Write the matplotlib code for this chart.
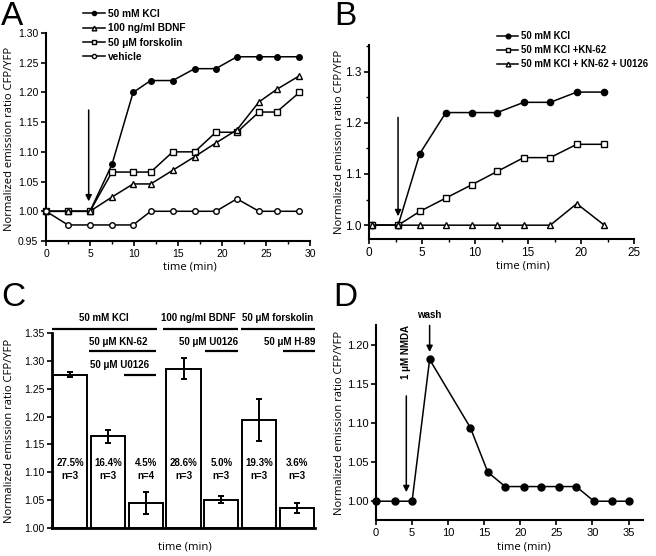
import matplotlib
matplotlib.use("Agg")
import matplotlib.pyplot as plt
import numpy as np
from matplotlib.ticker import MultipleLocator

plt.rcParams['font.family'] = ['Liberation Sans', 'DejaVu Sans']

# ---------------- data ----------------
# Panel A
a_time = [0, 2.5, 5, 7.5, 9.9, 11.9, 14.4, 16.9, 19.3, 21.7, 24.2, 26.2, 28.8]
a_kcl = [1.0, 1.0, 1.0, 1.079, 1.20, 1.22, 1.22, 1.24, 1.24, 1.26, 1.26, 1.26, 1.26]
a_bdnf = [1.0, 1.0, 1.0, 1.024, 1.046, 1.046, 1.069, 1.092, 1.115, 1.137, 1.184, 1.205, 1.228]
a_forsk = [1.0, 1.0, 1.0, 1.066, 1.066, 1.066, 1.10, 1.10, 1.133, 1.133, 1.167, 1.167, 1.20]
a_vehicle = [1.0, 0.977, 0.977, 0.977, 0.977, 1.0, 1.0, 1.0, 1.0, 1.021, 1.0, 1.0, 1.0]
a_labels = ['50 mM KCl', '100 ng/ml BDNF', '50 μM forskolin', 'vehicle']

# Panel B
b_time = [0.3, 2.75, 4.8, 7.25, 9.7, 12.1, 14.6, 17.1, 19.6, 22.2]
b_kcl = [1.0, 1.0, 1.140, 1.220, 1.220, 1.220, 1.240, 1.240, 1.260, 1.260]
b_kn62 = [1.0, 1.0, 1.027, 1.053, 1.079, 1.105, 1.132, 1.132, 1.158, 1.158]
b_u0126 = [1.0, 1.0, 1.0, 1.0, 1.0, 1.0, 1.0, 1.0, 1.042, 1.0]
b_labels = ['50 mM KCl', '50 mM KCl +KN-62', '50 mM KCl + KN-62 + U0126']

# Panel C
c_values = [1.2755, 1.1646, 1.0453, 1.2856, 1.0507, 1.1938, 1.0360]
c_errors = [0.005, 0.012, 0.020, 0.019, 0.0066, 0.038, 0.0095]
c_percent = ['27.5%', '16.4%', '4.5%', '28.6%', '5.0%', '19.3%', '3.6%']
c_n = ['n=3', 'n=3', 'n=4', 'n=3', 'n=3', 'n=3', 'n=3']

# Panel D
d_time = [0, 2.6, 5.0, 7.43, 13.07, 15.5, 17.9, 20.45, 22.85, 25.3, 27.75, 30.2, 32.7, 35.1]
d_ratio = [1.0, 1.0, 1.0, 1.181, 1.094, 1.037, 1.0187, 1.0187, 1.0187, 1.0187, 1.0187, 1.0, 1.0, 1.0]

# ---------------- figure ----------------
W, H = 656, 556
fig = plt.figure(figsize=(W / 100, H / 100), dpi=100)


def rect(l, t, r, b):
    return [l / W, 1 - b / H, (r - l) / W, (b - t) / H]


LABEL_FONT = dict(family=['Open Sans', 'DejaVu Sans'], fontsize=8.1)
YLABEL = 'Normalized emission ratio CFP/YFP'


def style(ax, tick_size):
    for s in ['top', 'right']:
        ax.spines[s].set_visible(False)
    for s in ['left', 'bottom']:
        ax.spines[s].set_linewidth(1.5)
    ax.tick_params(direction='out', length=3.5, width=1.2, labelsize=tick_size, pad=2)
    ax.tick_params(which='minor', direction='out', length=2, width=1.0)


lw = 1.1


def leg_kw(size):
    return dict(frameon=False, prop=dict(family='Liberation Sans', weight='bold', size=size),
                handlelength=2.2, handletextpad=0.3, labelspacing=0.42,
                borderpad=0, borderaxespad=0, markerscale=0.75)


# ---- Panel A ----
axA = fig.add_axes(rect(46, 33, 310, 241))
style(axA, 7.5)
lA1, = axA.plot(a_time, a_kcl, '-o', color='k', lw=lw, ms=4, mfc='k', clip_on=False, zorder=3)
lA3, = axA.plot(a_time, a_forsk, '-s', color='k', lw=lw, ms=4, mfc='white', mew=1.0, clip_on=False, zorder=3)
lA2, = axA.plot(a_time, a_bdnf, '-^', color='k', lw=lw, ms=4.5, mfc='white', mew=1.0, clip_on=False, zorder=3)
lA4, = axA.plot(a_time, a_vehicle, '-o', color='k', lw=lw, ms=4, mfc='white', mew=1.0, clip_on=False, zorder=4)
axA.set_xlim(0, 30)
axA.set_ylim(0.95, 1.30)
axA.xaxis.set_major_locator(MultipleLocator(5))
axA.xaxis.set_minor_locator(MultipleLocator(2.5))
axA.yaxis.set_major_locator(MultipleLocator(0.05))
axA.yaxis.set_major_formatter(matplotlib.ticker.FormatStrFormatter('%.2f'))
axA.set_xlabel('time (min)', **LABEL_FONT)
axA.set_ylabel(YLABEL, **LABEL_FONT)
axA.xaxis.set_label_coords(0.545, -0.10)
axA.yaxis.set_label_coords(-0.117, 0.49)
axA.annotate('', xy=(4.85, 1.012), xytext=(4.85, 1.175),
             arrowprops=dict(arrowstyle='-|>', color='k', lw=1.1, mutation_scale=9))
fig.legend([lA1, lA2, lA3, lA4], a_labels, loc='upper left',
           bbox_to_anchor=(83 / W, 1 - 9 / H), **leg_kw(7.3))

# ---- Panel B ----
axB = fig.add_axes(rect(369, 45, 634, 239))
style(axB, 8.5)
lB1, = axB.plot(b_time, b_kcl, '-o', color='k', lw=lw, ms=4.5, mfc='k', clip_on=False, zorder=3)
lB2, = axB.plot(b_time, b_kn62, '-s', color='k', lw=lw, ms=4, mfc='white', mew=1.0, clip_on=False, zorder=3)
lB3, = axB.plot(b_time, b_u0126, '-^', color='k', lw=lw, ms=4.5, mfc='white', mew=1.0, clip_on=False, zorder=4)
axB.set_xlim(0, 25)
axB.set_ylim(0.973, 1.352)
axB.xaxis.set_major_locator(MultipleLocator(5))
axB.xaxis.set_minor_locator(MultipleLocator(2.5))
axB.yaxis.set_major_locator(MultipleLocator(0.1))
axB.yaxis.set_minor_locator(MultipleLocator(0.05))
axB.yaxis.set_major_formatter(matplotlib.ticker.FormatStrFormatter('%.1f'))
axB.set_xlabel('time (min)', **LABEL_FONT)
axB.set_ylabel(YLABEL, **LABEL_FONT)
axB.xaxis.set_label_coords(0.58, -0.113)
axB.yaxis.set_label_coords(-0.09, 0.5)
axB.annotate('', xy=(2.74, 1.012), xytext=(2.74, 1.216),
             arrowprops=dict(arrowstyle='-|>', color='k', lw=1.1, mutation_scale=9))
fig.legend([lB1, lB2, lB3], b_labels, loc='upper left',
           bbox_to_anchor=(497 / W, 1 - 31 / H), **leg_kw(6.9))

# ---- Panel C ----
axC = fig.add_axes(rect(52, 333, 315, 528))
style(axC, 7.5)
axC.spines['left'].set_linewidth(2.0)
axC.spines['bottom'].set_linewidth(2.0)
xc = np.arange(len(c_values))
axC.bar(xc, np.array(c_values) - 1.0, bottom=1.0, width=0.91, color='white',
        edgecolor='k', linewidth=1.4, zorder=2)
axC.errorbar(xc, c_values, yerr=c_errors, fmt='none', ecolor='k', elinewidth=1.4,
             capsize=2.2, capthick=1.4, zorder=3)
for i in range(len(c_values)):
    axC.text(xc[i], 1.116, c_percent[i], ha='center', va='center', fontsize=7, fontweight='bold')
    axC.text(xc[i], 1.0935, c_n[i], ha='center', va='center', fontsize=7, fontweight='bold')
axC.set_xlim(-0.48, 6.48)
axC.set_ylim(1.0, 1.35)
axC.set_xticks([])
axC.yaxis.set_major_locator(MultipleLocator(0.05))
axC.yaxis.set_major_formatter(matplotlib.ticker.FormatStrFormatter('%.2f'))
axC.set_xlabel('time (min)', **LABEL_FONT)
axC.set_ylabel(YLABEL, **LABEL_FONT)
axC.xaxis.set_label_coords(0.506, -0.067)
axC.yaxis.set_label_coords(-0.14, 0.5)

c_lines = [(-0.48, 2.30, 1.357), (2.455, 4.43, 1.357), (4.52, 6.48, 1.357),
           (0.487, 2.28, 1.3175), (3.57, 4.43, 1.3175), (5.63, 6.48, 1.3175),
           (1.43, 2.28, 1.274)]
for x0, x1, y in c_lines:
    axC.plot([x0, x1], [y, y], color='k', lw=1.6, clip_on=False, solid_capstyle='butt')
c_texts = [(0.90, 1.377, '50 mM KCl'), (3.39, 1.377, '100 ng/ml BDNF'), (5.50, 1.377, '50 μM forskolin'),
           (1.28, 1.334, '50 μM KN-62'), (3.66, 1.334, '50 μM U0126'), (5.80, 1.334, '50 μM H-89'),
           (1.32, 1.292, '50 μM U0126')]
for x, y, t in c_texts:
    axC.text(x, y, t, ha='center', va='center', fontsize=7, fontweight='bold', clip_on=False)

# ---- Panel D ----
axD = fig.add_axes(rect(376, 325, 643, 520))
style(axD, 8)
axD.plot(d_time, d_ratio, '-o', color='k', lw=lw, ms=5, mfc='k', clip_on=False, zorder=3)
axD.set_xlim(0, 37)
axD.set_ylim(0.976, 1.225)
axD.xaxis.set_major_locator(MultipleLocator(5))
axD.yaxis.set_major_locator(MultipleLocator(0.05))
axD.yaxis.set_major_formatter(matplotlib.ticker.FormatStrFormatter('%.2f'))
axD.set_xlabel('time (min)', **LABEL_FONT)
axD.set_ylabel(YLABEL, **LABEL_FONT)
axD.xaxis.set_label_coords(0.553, -0.108)
axD.yaxis.set_label_coords(-0.117, 0.5)
axD.annotate('', xy=(4.2, 1.008), xytext=(4.2, 1.138),
             arrowprops=dict(arrowstyle='-|>', color='k', lw=1.1, mutation_scale=9))
axD.annotate('', xy=(7.43, 1.187), xytext=(7.43, 1.228),
             arrowprops=dict(arrowstyle='-|>', color='k', lw=1.1, mutation_scale=9),
             annotation_clip=False)
axD.text(7.43, 1.238, 'wash', ha='center', va='center', fontsize=7, fontweight='bold', clip_on=False)
axD.text(4.2, 1.19, '1 μM NMDA', ha='center', va='center', rotation=90, fontsize=7,
         fontweight='bold')

# ---- panel letters ----
for x, y, t in [(1, 1, 'A'), (334, 1, 'B'), (1, 282, 'C'), (333, 282, 'D')]:
    fig.text(x / W, 1 - y / H, t, fontsize=24, va='top', ha='left', family='Liberation Sans')

fig.savefig('out.png', dpi=100)
